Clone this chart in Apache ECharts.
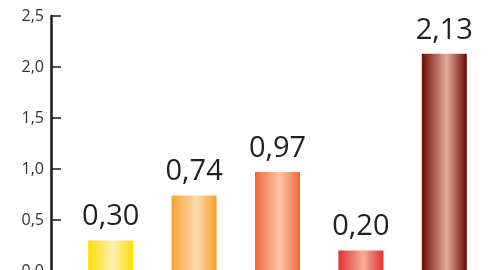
<!DOCTYPE html>
<html>
<head>
<meta charset="utf-8">
<script src="https://cdn.jsdelivr.net/npm/echarts@6/dist/echarts.min.js"></script>
<style>
  html, body { margin: 0; padding: 0; background: #fff; }
  #chart { width: 499px; height: 270px; }
</style>
</head>
<body>
<div id="chart"></div>
<script>
// values
const categories = ['A', 'B', 'C', 'D', 'E'];
const values = [0.30, 0.74, 0.97, 0.20, 2.13];
// edge colour, centre highlight colour for each bar
const edgeColors = ['#FFDC00', '#F7A12E', '#EF6A3A', '#E23232', '#6C0A02'];
const midColors = ['#FEF0B4', '#FDDCAE', '#FCC6A6', '#F2AE98', '#E2AC9C'];

const comma = function (v, d) { return v.toFixed(d).replace('.', ','); };

const chart = echarts.init(document.getElementById('chart'));

const data = values.map(function (v, i) {
  return {
    value: v,
    itemStyle: {
      color: new echarts.graphic.LinearGradient(0, 0, 1, 0, [
        { offset: 0, color: edgeColors[i] },
        { offset: 0.55, color: midColors[i] },
        { offset: 1, color: edgeColors[i] }
      ])
    }
  };
});

chart.setOption({
  animation: false,
  grid: { left: 69, right: 13, top: 16, bottom: -1, outerBoundsMode: 'none', containLabel: false },
  xAxis: {
    type: 'category',
    data: categories,
    axisLine: { show: false },
    axisTick: { show: false },
    axisLabel: { show: false }
  },
  yAxis: {
    type: 'value',
    min: 0,
    max: 2.5,
    interval: 0.5,
    offset: 18,
    axisLine: { show: true, lineStyle: { color: '#1A1A1A', width: 2.5 } },
    axisTick: { show: true, inside: true, length: 10, lineStyle: { color: '#1A1A1A', width: 1.5 } },
    splitLine: { show: false },
    axisLabel: {
      margin: 7,
      color: '#333',
      fontFamily: 'Open Sans',
      fontSize: 16,
      formatter: function (v) { return comma(v, 1); }
    }
  },
  series: [{
    type: 'bar',
    barWidth: 45,
    data: data,
    label: {
      show: true,
      position: 'top',
      distance: 9,
      color: '#231F20',
      fontFamily: 'Open Sans',
      fontSize: 29,
      formatter: function (p) { return comma(p.value, 2); }
    }
  }]
});
</script>
</body>
</html>
